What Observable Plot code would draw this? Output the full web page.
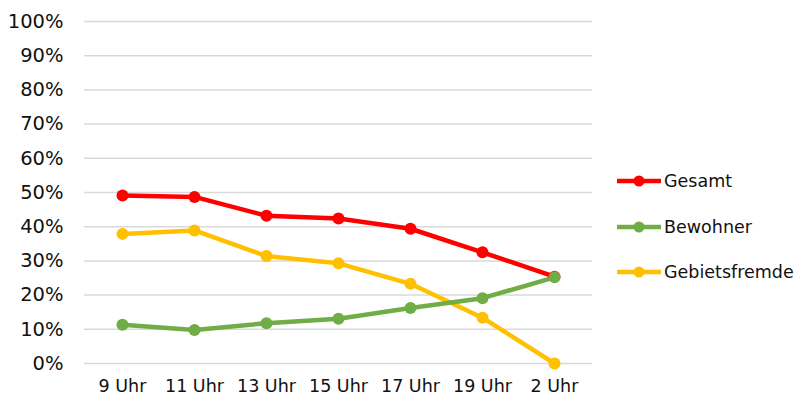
<!DOCTYPE html>
<html>
<head>
<meta charset="utf-8">
<script src="https://cdn.jsdelivr.net/npm/d3@7"></script>
<script src="https://cdn.jsdelivr.net/npm/@observablehq/plot@0.6"></script>
<style>
  html, body { margin: 0; padding: 0; background: #fff; }
  #wrap { position: relative; width: 798px; height: 404px; font-family: "DejaVu Sans", sans-serif; }
  #chart { position: absolute; left: 0; top: 0; }
  #legend { position: absolute; left: 616px; top: 0; }
  .item { position: absolute; left: 0; display: flex; align-items: center; font-size: 17.5px; color: #111; white-space: nowrap; }
  .item svg { margin-right: 2px; }
</style>
</head>
<body>
<div id="wrap"><div id="chart"></div><div id="legend"></div></div>
<script>
const categories = ["9 Uhr", "11 Uhr", "13 Uhr", "15 Uhr", "17 Uhr", "19 Uhr", "2 Uhr"];
const seriesNames = ["Gesamt", "Bewohner", "Gebietsfremde"];
const seriesColors = ["#FF0000", "#70AD47", "#FFC000"];
const gesamt = [49.1, 48.7, 43.2, 42.4, 39.4, 32.5, 25.4];
const bewohner = [11.3, 9.8, 11.8, 13.1, 16.2, 19.1, 25.2];
const gebietsfremde = [37.9, 38.9, 31.4, 29.3, 23.3, 13.4, 0.0];
const yTicks = [0, 10, 20, 30, 40, 50, 60, 70, 80, 90, 100];

const valuesBySeries = [gesamt, bewohner, gebietsfremde];
// Draw order: Gesamt, Gebietsfremde, then Bewohner on top (as in reference)
const drawOrder = [0, 2, 1];
const data = [];
for (const s of drawOrder) {
  categories.forEach((c, i) => data.push({ series: seriesNames[s], cat: c, value: valuesBySeries[s][i] }));
}

const chart = Plot.plot({
  width: 600,
  height: 404,
  marginLeft: 84,
  marginRight: 8,
  marginTop: 21,
  marginBottom: 41,
  style: { fontFamily: "DejaVu Sans, sans-serif", fontSize: "17.5px", color: "#111", background: "#fff" },
  x: { type: "band", domain: categories, padding: 0, label: null },
  y: { domain: [0, 100], label: null },
  color: { domain: seriesNames, range: seriesColors },
  marks: [
    Plot.ruleY(yTicks, { stroke: "#d9d9d9", strokeWidth: 1.5 }),
    Plot.axisY({ ticks: yTicks, tickSize: 0, tickPadding: 21, tickFormat: d => d + "%", label: null, fontSize: 19.5 }),
    Plot.axisX({ tickSize: 0, tickPadding: 16, label: null, fontSize: 17.5 }),
    Plot.line(data, { x: "cat", y: "value", z: "series", stroke: "series", strokeWidth: 4.5, curve: "linear" }),
    Plot.dot(data, { x: "cat", y: "value", fill: "series", r: 6, stroke: "none" })
  ]
});
document.getElementById("chart").appendChild(chart);

const legendTops = [181, 227, 272];
const legend = document.getElementById("legend");
seriesNames.forEach((name, i) => {
  const item = document.createElement("div");
  item.className = "item";
  item.style.top = (legendTops[i] - 12) + "px";
  item.innerHTML = `<svg width="46" height="24"><line x1="1" y1="12" x2="45" y2="12" stroke="${seriesColors[i]}" stroke-width="4.5"/><circle cx="23" cy="12" r="5.5" fill="${seriesColors[i]}"/></svg><span>${name}</span>`;
  legend.appendChild(item);
});
</script>
</body>
</html>
